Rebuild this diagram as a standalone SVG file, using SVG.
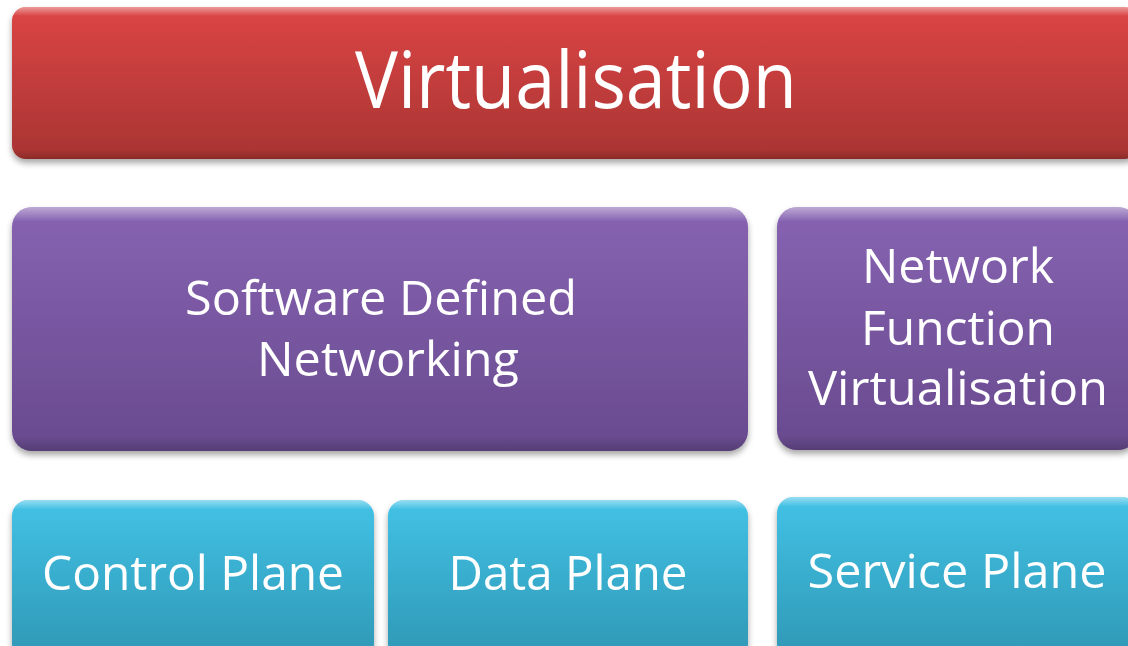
<svg xmlns="http://www.w3.org/2000/svg" width="1128" height="646" viewBox="0 0 1128 646">
  <defs>
    <linearGradient id="gRed" x1="0" y1="0" x2="0" y2="1">
      <stop offset="0" stop-color="#dc4545"/>
      <stop offset="1" stop-color="#a83432"/>
    </linearGradient>
    <linearGradient id="gPurple" x1="0" y1="0" x2="0" y2="1">
      <stop offset="0" stop-color="#8763b2"/>
      <stop offset="1" stop-color="#684a8e"/>
    </linearGradient>
    <linearGradient id="gCyan" x1="0" y1="0" x2="0" y2="1">
      <stop offset="0" stop-color="#42c2e6"/>
      <stop offset="1" stop-color="#2f97b4"/>
    </linearGradient>
    <linearGradient id="gShine" x1="0" y1="0" x2="0" y2="1">
      <stop offset="0" stop-color="#ffffff" stop-opacity="0.45"/>
      <stop offset="0.06" stop-color="#ffffff" stop-opacity="0"/>
      <stop offset="0.94" stop-color="#000000" stop-opacity="0"/>
      <stop offset="1" stop-color="#000000" stop-opacity="0.18"/>
    </linearGradient>
    <filter id="shadow" x="-5%" y="-10%" width="110%" height="125%">
      <feGaussianBlur in="SourceAlpha" stdDeviation="3"/>
      <feOffset dx="0" dy="4" result="b"/>
      <feComponentTransfer><feFuncA type="linear" slope="0.35"/></feComponentTransfer>
      <feMerge><feMergeNode/><feMergeNode in="SourceGraphic"/></feMerge>
    </filter>
  </defs>
  <style>
    text { font-family: "Open Sans", "Noto Sans", "Liberation Sans", sans-serif; fill: #ffffff; text-anchor: middle; }
    .big { font-size: 78px; }
    .mid { font-size: 48px; }
    .edge { fill: url(#gShine); }
  </style>
  <rect width="1128" height="646" fill="#ffffff"/>

  <g id="virtualisation" filter="url(#shadow)">
    <rect x="12" y="7" width="1126" height="152" rx="14" fill="url(#gRed)"/>
    <rect x="12" y="7" width="1126" height="152" rx="14" class="edge"/>
    <text class="big" x="576" y="108" textLength="442" lengthAdjust="spacingAndGlyphs">Virtualisation</text>
  </g>

  <g id="sdn" filter="url(#shadow)">
    <rect x="12" y="207" width="736" height="244" rx="20" fill="url(#gPurple)"/>
    <rect x="12" y="207" width="736" height="244" rx="20" class="edge"/>
    <text class="mid" x="381" y="315" textLength="392" lengthAdjust="spacingAndGlyphs">Software Defined</text>
    <text class="mid" x="388" y="376" textLength="262" lengthAdjust="spacingAndGlyphs">Networking</text>
  </g>

  <g id="nfv" filter="url(#shadow)">
    <rect x="777" y="207" width="361" height="243" rx="20" fill="url(#gPurple)"/>
    <rect x="777" y="207" width="361" height="243" rx="20" class="edge"/>
    <text class="mid" x="958" y="283" textLength="192" lengthAdjust="spacingAndGlyphs">Network</text>
    <text class="mid" x="958" y="345" textLength="194" lengthAdjust="spacingAndGlyphs">Function</text>
    <text class="mid" x="958" y="405" textLength="300" lengthAdjust="spacingAndGlyphs">Virtualisation</text>
  </g>

  <g id="control-plane" filter="url(#shadow)">
    <rect x="12" y="500" width="362" height="160" rx="16" fill="url(#gCyan)"/>
    <rect x="12" y="500" width="362" height="160" rx="16" class="edge"/>
    <text class="mid" x="193" y="590" textLength="302" lengthAdjust="spacingAndGlyphs">Control Plane</text>
  </g>

  <g id="data-plane" filter="url(#shadow)">
    <rect x="388" y="500" width="360" height="160" rx="16" fill="url(#gCyan)"/>
    <rect x="388" y="500" width="360" height="160" rx="16" class="edge"/>
    <text class="mid" x="568" y="590" textLength="239" lengthAdjust="spacingAndGlyphs">Data Plane</text>
  </g>

  <g id="service-plane" filter="url(#shadow)">
    <rect x="777" y="497" width="361" height="163" rx="16" fill="url(#gCyan)"/>
    <rect x="777" y="497" width="361" height="163" rx="16" class="edge"/>
    <text class="mid" x="957" y="588" textLength="299" lengthAdjust="spacingAndGlyphs">Service Plane</text>
  </g>

  <g id="connectors"/>
</svg>
